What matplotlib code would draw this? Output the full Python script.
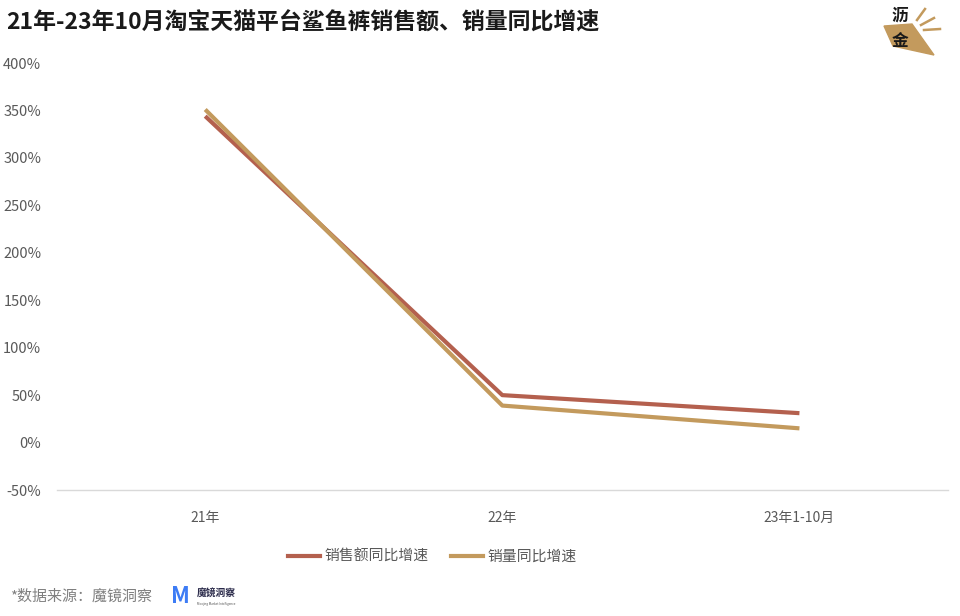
import matplotlib
matplotlib.use("Agg")
import matplotlib.pyplot as plt
from matplotlib.patches import Polygon
from matplotlib.lines import Line2D

plt.rcParams['font.family'] = ['Noto Sans CJK SC', 'DejaVu Sans']

categories = ["21年", "22年", "23年1-10月"]
sales_growth = [344, 50, 31]
volume_growth = [351, 39, 15]
series_names = ["销售额同比增速", "销量同比增速"]
yticks = [-50, 0, 50, 100, 150, 200, 250, 300, 350, 400]

c_sales = "#B4604E"
c_vol = "#C39A5D"

W, H = 960, 616
fig = plt.figure(figsize=(9.6, 6.16), dpi=100)
ax = fig.add_axes([0.059, 0.2045, 0.9285, 0.6932])

x = range(len(categories))
ax.plot(x, sales_growth, color=c_sales, lw=3, solid_capstyle='butt', label=series_names[0], zorder=3)
ax.plot(x, volume_growth, color=c_vol, lw=3, solid_capstyle='butt', label=series_names[1], zorder=3)

ax.set_xlim(-0.5, 2.5)
ax.set_ylim(-50, 400)
ax.set_yticks(yticks)
ax.set_yticklabels([f"{v}%" for v in yticks])
ax.set_xticks(list(x))
ax.set_xticklabels(categories)
for s in ["top", "right", "left"]:
    ax.spines[s].set_visible(False)
ax.spines["bottom"].set_color("#D9D9D9")
ax.spines["bottom"].set_linewidth(1)
ax.tick_params(axis='both', length=0, colors="#595959")
ax.tick_params(axis='y', pad=11, labelsize=10.5)
ax.tick_params(axis='x', pad=15, labelsize=10)

fig.text(0.006, 0.962, "21年-23年10月淘宝天猫平台鲨鱼裤销售额、销量同比增速",
         fontsize=16.5, fontweight='bold', color="#1a1a1a", va='center', ha='left')

handles = [Line2D([0], [0], color=c_sales, lw=3), Line2D([0], [0], color=c_vol, lw=3)]
fig.legend(handles, series_names, loc='center', bbox_to_anchor=(0.45, 0.096), ncol=2,
           frameon=False, fontsize=10.7, handlelength=2.2, handletextpad=0.25, columnspacing=1.5,
           labelcolor="#595959")

fig.text(0.010, 0.031, "*数据来源：魔镜洞察", fontsize=10.8, color="#7f7f7f", va='center', ha='left')
fig.text(0.178, 0.031, "M", fontsize=16, fontweight='bold', color="#3d7cf5", va='center', ha='left')
fig.text(0.2055, 0.037, "魔镜洞察", fontsize=7, fontweight='bold', color="#2a2a4a", va='center', ha='left')
fig.text(0.2055, 0.020, "Moojing Market Intelligence", fontsize=2.2, color="#555555", va='center', ha='left')

# logo top-right
def fp(px, py):
    return [px / W, 1 - py / H]

poly = Polygon([fp(884, 26), fp(912, 24), fp(934, 55), fp(893, 46)],
               closed=True, transform=fig.transFigure, color="#C39A5D", zorder=0)
fig.patches.append(poly)
for (a, b) in [((917, 20), (925, 9)), ((921, 25), (934, 18)), ((924, 30), (940, 29))]:
    p0, p1 = fp(*a), fp(*b)
    fig.lines.append(Line2D([p0[0], p1[0]], [p0[1], p1[1]], transform=fig.transFigure, color="#C39A5D", lw=1.8))
fig.text(fp(900, 16)[0], fp(900, 16)[1], "沥", fontsize=12, fontweight='bold', color="#1a1a1a", va='center', ha='center')
fig.text(fp(900, 41)[0], fp(900, 41)[1], "金", fontsize=12, fontweight='bold', color="#1a1a1a", va='center', ha='center')

fig.savefig("out.png", dpi=100)
